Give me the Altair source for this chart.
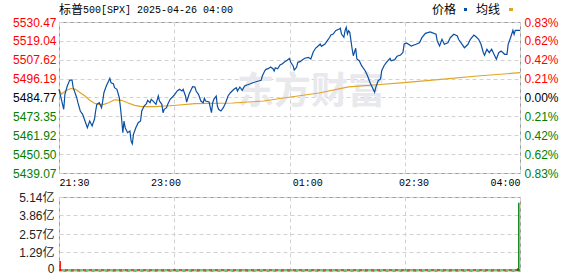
import json
import altair as alt
import pandas as pd

prev_close = 5484.77

minutes = [
    0, 4, 5, 7, 9, 11, 12, 14, 15, 16,
    18, 20, 22, 24, 26, 28, 30, 31, 32, 34,
    36, 37, 38, 40, 42, 43, 44, 46, 47, 49,
    51, 52, 53, 54, 55, 56, 58, 60, 61, 62,
    63, 65, 67, 69, 70, 72, 74, 75, 77, 78,
    80, 82, 84, 85, 87, 88, 89, 91, 92, 94,
    96, 98, 100, 102, 104, 105, 107, 108, 110, 112,
    113, 115, 116, 118, 120, 122, 123, 124, 127, 128,
    129, 130, 131, 133, 134, 135, 137, 139, 141, 143,
    145, 148, 150, 151, 153, 155, 157, 159, 162, 164,
    166, 169, 171, 172, 174, 175, 177, 179, 181, 182,
    183, 185, 187, 189, 191, 193, 195, 196, 198, 199,
    201, 202, 204, 206, 208, 211, 213, 214, 215, 217,
    219, 221, 222, 225, 227, 229, 230, 232, 234, 237,
    238, 239, 241, 242, 243, 244, 245, 246, 248, 249,
    251, 252, 254, 256, 259, 261, 263, 265, 267, 268,
    270, 272, 273, 275, 277, 280, 281, 284, 286, 289,
    291, 292, 294, 298, 302, 305, 307, 310, 314, 319,
    320, 322, 324, 326, 329, 331, 334, 337, 338, 341,
    343, 346, 348, 351, 353, 355, 357, 359, 360, 362,
    364, 366, 368, 370, 372, 374, 377, 379, 380, 382,
    384, 385, 386, 390,
]
prices = [
    5489.73, 5477.63, 5486.71, 5491.73, 5495.18, 5495.36, 5490.70, 5486.71, 5484.65, 5481.62,
    5476.60, 5474.60, 5470.54, 5466.49, 5470.54, 5467.52, 5471.57, 5476.60, 5480.65, 5481.62,
    5478.59, 5482.65, 5487.67, 5491.73, 5494.76, 5496.39, 5493.73, 5493.12, 5490.70, 5489.73,
    5484.65, 5478.59, 5471.57, 5463.46, 5470.54, 5466.49, 5463.46, 5464.49, 5458.44, 5456.80,
    5462.49, 5466.49, 5469.51, 5470.54, 5476.60, 5479.62, 5481.02, 5483.07, 5481.62, 5483.68,
    5482.23, 5480.65, 5485.68, 5482.65, 5480.65, 5475.57, 5477.63, 5478.59, 5480.65, 5483.68,
    5485.07, 5486.71, 5488.70, 5489.73, 5488.70, 5489.73, 5485.68, 5482.04, 5486.71, 5489.73,
    5491.31, 5491.12, 5488.70, 5486.71, 5482.65, 5481.62, 5484.28, 5482.65, 5482.04, 5478.59,
    5475.57, 5481.62, 5483.68, 5485.68, 5479.62, 5477.63, 5476.60, 5478.59, 5481.62, 5485.68,
    5487.67, 5489.73, 5490.70, 5488.70, 5491.12, 5489.13, 5491.73, 5492.33, 5493.12, 5493.73,
    5494.15, 5494.76, 5495.18, 5497.78, 5500.81, 5501.84, 5502.20, 5503.23, 5502.20, 5500.81,
    5502.81, 5502.20, 5504.44, 5505.23, 5506.44, 5507.29, 5508.38, 5506.07, 5504.02, 5501.41,
    5503.05, 5506.07, 5506.44, 5507.65, 5508.50, 5509.10, 5508.07, 5510.07, 5512.13, 5514.55,
    5515.76, 5517.15, 5515.76, 5517.15, 5519.15, 5521.21, 5522.60, 5523.21, 5525.20, 5526.23,
    5526.66, 5523.21, 5521.21, 5525.20, 5527.26, 5523.21, 5525.20, 5524.23, 5514.13, 5510.07,
    5514.55, 5508.07, 5507.04, 5504.02, 5500.99, 5497.96, 5493.97, 5490.94, 5487.92, 5490.94,
    5494.94, 5495.97, 5500.99, 5504.02, 5506.07, 5508.50, 5507.04, 5507.65, 5509.71, 5510.49,
    5512.13, 5517.15, 5517.76, 5515.94, 5516.97, 5517.94, 5520.97, 5523.63, 5524.42, 5523.02,
    5518.97, 5515.94, 5520.00, 5516.97, 5517.94, 5520.97, 5523.02, 5521.99, 5520.00, 5516.97,
    5514.91, 5516.97, 5520.00, 5522.60, 5521.39, 5520.00, 5516.97, 5511.89, 5510.31, 5513.94,
    5511.89, 5513.94, 5510.92, 5507.89, 5511.89, 5512.91, 5510.92, 5510.92, 5516.97, 5520.97,
    5525.44, 5523.02, 5525.44, 5525.44,
]

avg_minutes = [0, 2, 6, 10, 14, 18, 22, 26, 30, 33, 38, 42, 47, 53, 58,
               64, 70, 81, 97, 115, 147, 173, 196, 220, 245, 266, 292, 323, 354, 390]
avg_prices = [5489.73, 5486.71, 5489.00, 5490.20, 5489.73, 5487.67, 5485.68, 5483.07,
              5481.26, 5480.65, 5480.65, 5481.62, 5483.38, 5483.07, 5481.62, 5480.05,
              5479.20, 5479.20, 5479.93, 5481.02, 5481.44, 5482.65, 5485.07, 5487.49,
              5491.25, 5492.33, 5493.73, 5495.79, 5497.78, 5499.78]

vol_minutes = [1, 388, 389]
vol_values = [0.70, 0.19, 4.74]
vol_side = ["涨", "涨", "跌"]

price_ticks = [5439.07, 5450.50, 5461.92, 5473.35, 5484.77, 5496.19, 5507.62, 5519.04, 5530.47]
vol_ticks = [0, 1.29, 2.57, 3.86, 5.14]
time_tick_pos = [0, 90, 210, 300, 390]
time_tick_labels = ["21:30", "23:00", "01:00", "02:30", "04:00"]
grid_pos = [0, 97.5, 195, 292.5, 390]

title_cn = "标普"
title_rest = "500[SPX] 2025-04-26 04:00"
legend_labels = ["价格", "均线"]
watermark = "东方财富"

assert len(minutes) == len(prices)
assert len(avg_minutes) == len(avg_prices)

price_df = pd.DataFrame({"t": minutes, "price": prices})
avg_df = pd.DataFrame({"t": avg_minutes, "avg": avg_prices})
vol_df = pd.DataFrame({"t": vol_minutes, "vol": vol_values, "side": vol_side})

W, H1, H2 = 461, 151, 74
RED, GREEN, BLUE, ORANGE = "#ff0000", "#008000", "#0b4fa3", "#e0a526"
GRID = dict(grid=True, gridColor="#d2d2d2", gridDash=[4, 3], gridWidth=1)

xscale = alt.Scale(domain=[0, 390], nice=False, zero=False)
yscale = alt.Scale(domain=[price_ticks[0], price_ticks[-1]], nice=False, zero=False)

color_cond = {
    "condition": [
        {"test": f"datum.value > {prev_close + 0.005}", "value": RED},
        {"test": f"datum.value < {prev_close - 0.005}", "value": GREEN},
    ],
    "value": "#000000",
}

time_expr = f"{json.dumps(time_tick_labels)}[indexof({json.dumps(time_tick_pos)}, datum.value)]"
pct_expr = f"format(abs(datum.value - {prev_close}) / {prev_close} * 100, '.2f') + '%'"


def text_item(s, x, y, **kw):
    return alt.Chart(pd.DataFrame({"s": [s]})).mark_text(
        align="left", baseline="middle", **kw
    ).encode(text="s:N", x=alt.value(x), y=alt.value(y))


def swatch(color, x0, x1, y0, y1):
    return alt.Chart(pd.DataFrame({"a": [0]})).mark_rect(color=color).encode(
        x=alt.value(x0), x2=alt.value(x1), y=alt.value(y0), y2=alt.value(y1)
    )


wm = alt.Chart(pd.DataFrame({"s": [watermark]})).mark_text(
    align="center", baseline="middle", font="Noto Sans CJK SC", fontSize=37,
    fontWeight="bold", color="#e8e8ed"
).encode(text="s:N", x=alt.value(252), y=alt.value(71))

price_line = alt.Chart(price_df).mark_line(color=BLUE, strokeWidth=1.2).encode(
    x=alt.X("t:Q", scale=xscale, axis=alt.Axis(
        values=time_tick_pos, labelExpr=time_expr, grid=False, ticks=False, domain=False,
        labelFont="Liberation Mono", labelFontSize=10, labelColor="#000000",
        labelPadding=4, labelFlush=True, labelOverlap=False, title=None)),
    y=alt.Y("price:Q", scale=yscale, axis=alt.Axis(
        values=price_ticks, format=".2f", orient="left", ticks=False, domain=False,
        labelFont="Liberation Sans", labelFontSize=12, labelColor=color_cond,
        labelPadding=3, labelOverlap=False, title=None, **GRID)),
)

avg_line = alt.Chart(avg_df).mark_line(color=ORANGE, strokeWidth=1.2).encode(
    x=alt.X("t:Q", scale=xscale, axis=alt.Axis(
        orient="top", values=grid_pos, labels=False, ticks=False, domain=False,
        title=None, **GRID)),
    y=alt.Y("avg:Q", scale=yscale, axis=alt.Axis(
        orient="right", values=price_ticks, labelExpr=pct_expr, grid=False, ticks=False,
        domain=False, labelFont="Liberation Sans", labelFontSize=12, labelColor=color_cond,
        labelPadding=4, labelOverlap=False, title=None)),
)

top = alt.layer(
    wm,
    avg_line,
    price_line,
    text_item(title_cn, 0, -12, font="Noto Sans CJK SC", fontSize=12, color="#000000"),
    text_item(title_rest, 24, -12, font="Liberation Mono", fontSize=10, color="#000000"),
    text_item(legend_labels[0], 373, -12, font="Noto Sans CJK SC", fontSize=12, color="#000000"),
    swatch(BLUE, 405, 408, -14, -11),
    text_item(legend_labels[1], 417, -12, font="Noto Sans CJK SC", fontSize=12, color="#000000"),
    swatch(ORANGE, 450, 454, -14, -11),
).resolve_axis(x="independent", y="independent").properties(width=W, height=H1)

vol_scale = alt.Scale(domain=[0, vol_ticks[-1]], nice=False, zero=True)

base_green = alt.Chart(pd.DataFrame({"a": [0]})).mark_rule(color=GREEN, strokeWidth=1).encode(
    x=alt.value(0), x2=alt.value(W), y=alt.value(H2 - 1))
base_red = alt.Chart(pd.DataFrame({"a": [0]})).mark_rule(
    color=RED, strokeWidth=1, strokeDash=[3, 3]).encode(
    x=alt.value(0), x2=alt.value(W), y=alt.value(H2 - 1))

vol_bars = alt.Chart(vol_df).mark_rule(strokeWidth=1.4).encode(
    x=alt.X("t:Q", scale=xscale, axis=alt.Axis(
        orient="top", values=grid_pos, labels=False, ticks=False, domain=False,
        title=None, **GRID)),
    y=alt.Y("vol:Q", scale=vol_scale, axis=alt.Axis(
        values=vol_ticks, labelExpr="datum.value == 0 ? '0' : format(datum.value, '.2f') + '亿'",
        ticks=False, domain=False, labelFont="Liberation Sans, Noto Sans CJK SC",
        labelFontSize=12, labelColor="#222222", labelPadding=5, labelOverlap=False,
        labelBaseline={"condition": {"test": "datum.value == 0", "value": "bottom"}, "value": "middle"},
        labelOffset={"condition": {"test": "datum.value == 0", "value": 4}, "value": 0},
        title=None, **GRID)),
    y2=alt.datum(0),
    color=alt.Color("side:N", scale=alt.Scale(domain=["涨", "跌"], range=[RED, GREEN]), legend=None),
)

bottom = alt.layer(base_green, base_red, vol_bars).properties(width=W, height=H2)

chart = alt.vconcat(top, bottom, spacing=24, bounds="flush").properties(
    padding={"left": 12, "top": 3, "right": 0, "bottom": 0},
    background="#ffffff",
).configure_view(stroke="#9a9a9a", strokeWidth=1)

chart.save("out.html", embed_options={"renderer": "svg", "actions": False})
